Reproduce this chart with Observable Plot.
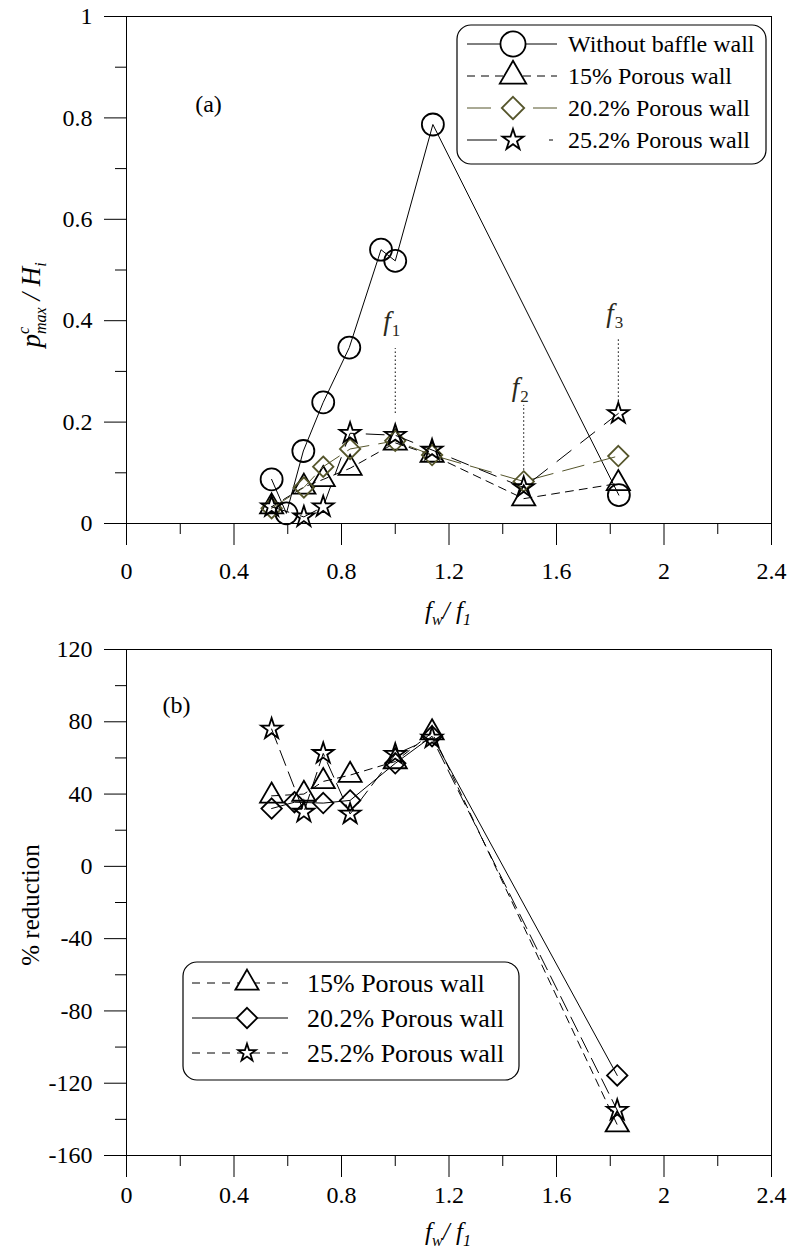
<!DOCTYPE html>
<html>
<head>
<meta charset="utf-8">
<script src="https://cdn.jsdelivr.net/npm/d3@7"></script>
<script src="https://cdn.jsdelivr.net/npm/@observablehq/plot@0.6"></script>
<style>
  html, body { margin: 0; padding: 0; background: #fff; }
  #chart { width: 788px; height: 1250px; overflow: hidden; font-family: "Liberation Serif", "Times New Roman", Times, "DejaVu Serif", serif; }
  #chart svg { display: block; }
  #chart svg text { font-family: "Liberation Serif", "Times New Roman", Times, "DejaVu Serif", serif; }
</style>
</head>
<body>
<div id="chart"></div>
<script>
// ---------------- data ----------------
// (a) p^c_max / H_i versus f_w / f_1
const xBaffle = [0.54, 0.595, 0.658, 0.732, 0.829, 0.947, 1.0, 1.14, 1.832];
const pBaffle = [0.087, 0.02, 0.143, 0.239, 0.347, 0.54, 0.518, 0.787, 0.056];
const xPorous = [0.54, 0.66, 0.732, 0.832, 1.0, 1.137, 1.478, 1.83];
const p15  = [0.033, 0.072, 0.087, 0.109, 0.159, 0.135, 0.049, 0.079];
const p202 = [0.030, 0.071, 0.112, 0.147, 0.163, 0.135, 0.083, 0.133];
const p252 = [0.033, 0.013, 0.033, 0.178, 0.174, 0.145, 0.071, 0.217];

// (b) % reduction versus f_w / f_1
const xRed    = [0.54, 0.66, 0.732, 0.832, 1.0, 1.137, 1.826];
const xRed202 = [0.54, 0.625, 0.732, 0.832, 1.0, 1.137, 1.826];
const r15  = [39, 40, 47, 50.5, 58, 74, -143];
const r202 = [32, 35.5, 35, 36.5, 57, 72, -115.7];
const r252 = [76, 30, 62.5, 29, 62, 71, -135];

// ticks
const xTicks = [0, 0.4, 0.8, 1.2, 1.6, 2, 2.4];
const xTickLabels = ["0", "0.4", "0.8", "1.2", "1.6", "2", "2.4"];
const xMinor = [0.2, 0.6, 1.0, 1.4, 1.8, 2.2];
const yTicksA = [0, 0.2, 0.4, 0.6, 0.8, 1];
const yTickLabelsA = ["0", "0.2", "0.4", "0.6", "0.8", "1"];
const yMinorA = [0.1, 0.3, 0.5, 0.7, 0.9];
const yTicksB = [-160, -120, -80, -40, 0, 40, 80, 120];
const yTickLabelsB = ["-160", "-120", "-80", "-40", "0", "40", "80", "120"];
const yMinorB = [-140, -100, -60, -20, 20, 60, 100];

// names
const namesA = ["Without baffle wall", "15% Porous wall", "20.2% Porous wall", "25.2% Porous wall"];
const namesB = ["15% Porous wall", "20.2% Porous wall", "25.2% Porous wall"];

// natural-frequency annotations in (a)
const fSub = ["1", "2", "3"];
const fX = [1.0, 1.478, 1.83];
const fTextY = [0.38, 0.25, 0.396];
const fLineTop = [0.345, 0.233, 0.365];
const fLineBottom = [0.217, 0.105, 0.233];

// panel letters
const panelText = ["(a)", "(b)"];
const panelX = [0.305, 0.186];
const panelY = [0.826, 89];

// ---------------- drawing ----------------
const FONT = "Liberation Serif, Times New Roman, Times, DejaVu Serif, serif";
const OLIVE = "#55552b";
const W = 788, H = 625;

function axisMarks(yTicks, yLabels, yMinor, xPad) {
  return [
    Plot.axisX({ticks: xTicks, tickSize: 22, tickPadding: xPad,
      tickFormat: d => xTickLabels[xTicks.indexOf(d)], label: null}),
    Plot.axisX({ticks: xMinor, tickSize: 11, tickFormat: () => "", label: null}),
    Plot.axisY({ticks: yTicks, tickSize: 22, tickPadding: 12,
      tickFormat: d => yLabels[yTicks.indexOf(d)], label: null}),
    Plot.axisY({ticks: yMinor, tickSize: 11, tickFormat: () => "", label: null}),
    Plot.frame({stroke: "#000", strokeWidth: 1})
  ];
}

const sym = {
  circle: {type: d3.symbolCircle, r: 11},
  triangle: {type: d3.symbolTriangle, r: 8.6},
  diamond2: {type: d3.symbolDiamond2, r: 9.2},
  star: {type: d3.symbolStar, r: 6.6}
};

function series(xs, ys, symbol, color, dash, sw) {
  return [
    Plot.line(xs, {x: xs, y: ys, stroke: color, strokeWidth: sw || 1, strokeDasharray: dash || null}),
    Plot.dot(xs, {x: xs, y: ys, symbol, r: sym[symbol].r, stroke: color, strokeWidth: 1.8, fill: "none"})
  ];
}

const plotStyle = {fontFamily: FONT, fontSize: "24px", color: "#000", background: "#fff", overflow: "visible"};

const plotA = Plot.plot({
  width: W, height: H,
  marginLeft: 126, marginRight: 17, marginTop: 16, marginBottom: 102,
  x: {domain: [0, 2.4]},
  y: {domain: [0, 1]},
  style: plotStyle,
  marks: [
    ...axisMarks(yTicksA, yTickLabelsA, yMinorA, 16),
    Plot.ruleX(fX, {x: fX, y1: fLineBottom, y2: fLineTop, stroke: "#000", strokeWidth: 1, strokeDasharray: "1.5,2.5"}),
    ...series(xBaffle, pBaffle, "circle", "#000", null, 1),
    ...series(xPorous, p15, "triangle", "#000", "8,6", 1),
    ...series(xPorous, p202, "diamond2", OLIVE, "22,10", 1),
    ...series(xPorous, p252, "star", "#000", "18,12", 1),
    Plot.text([panelText[0]], {x: [panelX[0]], y: [panelY[0]], text: d => d, fontSize: 24, fill: "#000"})
  ]
});

const plotB = Plot.plot({
  width: W, height: H,
  marginLeft: 126, marginRight: 17, marginTop: 24, marginBottom: 95,
  x: {domain: [0, 2.4]},
  y: {domain: [-160, 120]},
  style: plotStyle,
  marks: [
    ...axisMarks(yTicksB, yTickLabelsB, yMinorB, 8),
    ...series(xRed, r15, "triangle", "#000", "8,6", 1),
    ...series(xRed202, r202, "diamond2", "#000", null, 1),
    ...series(xRed, r252, "star", "#000", "16,7", 1),
    Plot.text([panelText[1]], {x: [panelX[1]], y: [panelY[1]], text: d => d, fontSize: 24, fill: "#000"})
  ]
});

document.getElementById("chart").append(plotA, plotB);

const svgA = d3.select(plotA), svgB = d3.select(plotB);

// natural frequency labels f1, f2, f3
const sxA = plotA.scale("x"), syA = plotA.scale("y");
fSub.forEach((s, i) => {
  const t = svgA.append("text")
    .attr("x", sxA.apply(fX[i]) - 3).attr("y", syA.apply(fTextY[i]))
    .attr("text-anchor", "middle").attr("font-family", FONT).attr("font-size", 27).attr("fill", "#2b2a1c");
  t.append("tspan").attr("font-style", "italic").text("f");
  t.append("tspan").attr("font-size", 17).attr("dy", 6).attr("dx", 1).text(s);
});

// x axis titles
function xTitle(svg, y) {
  const t = svg.append("text").attr("x", 448).attr("y", y)
    .attr("text-anchor", "middle").attr("font-family", FONT).attr("font-size", 25).attr("font-style", "italic").attr("fill", "#000");
  t.append("tspan").text("f");
  t.append("tspan").attr("font-size", 16).attr("dy", 6).text("w");
  t.append("tspan").attr("dy", -6).text("/ f");
  t.append("tspan").attr("font-size", 16).attr("dy", 6).text("1");
}
xTitle(svgA, 619);
xTitle(svgB, 615);

// y axis titles
{
  const t = svgA.append("text").attr("transform", "translate(40,305) rotate(-90)")
    .attr("text-anchor", "middle").attr("font-family", FONT).attr("font-size", 27).attr("font-style", "italic").attr("fill", "#000");
  t.append("tspan").text("p");
  t.append("tspan").attr("font-size", 16).attr("dy", -11).text("c");
  t.append("tspan").attr("font-size", 16).attr("dx", -7).attr("dy", 17).text("max");
  t.append("tspan").attr("dy", -6).text(" / H");
  t.append("tspan").attr("font-size", 16).attr("dy", 6).text("i");
}
svgB.append("text").attr("transform", "translate(30,280) rotate(-90)")
  .attr("text-anchor", "middle").attr("dy", "0.35em").attr("font-family", FONT).attr("font-size", 25).attr("fill", "#000")
  .text("% reduction");

// legends
function legend(svg, box, rows, layout) {
  const g = svg.append("g");
  g.append("rect").attr("x", box[0]).attr("y", box[1]).attr("width", box[2]).attr("height", box[3])
    .attr("rx", 14).attr("fill", "#fff").attr("stroke", "#000").attr("stroke-width", 1.2);
  rows.forEach((r, i) => {
    const cy = layout.rowY[i];
    g.append("line").attr("x1", layout.lineX1).attr("x2", layout.lineX2).attr("y1", cy).attr("y2", cy)
      .attr("stroke", r.color).attr("stroke-width", 1).attr("stroke-dasharray", r.dash);
    const s = sym[r.symbol];
    g.append("path").attr("d", d3.symbol(s.type, Math.PI * s.r * s.r * (r.scale || 1))())
      .attr("transform", `translate(${layout.symX},${cy})`)
      .attr("fill", "#fff").attr("stroke", r.color).attr("stroke-width", 1.8);
    g.append("text").attr("x", layout.textX).attr("y", cy).attr("dy", "0.34em")
      .attr("text-anchor", "start")
      .attr("font-family", FONT).attr("font-size", layout.fontSize).attr("fill", "#000").text(r.name);
  });
}

legend(svgA, [457, 25, 309, 139], [
  {name: namesA[0], symbol: "circle", color: "#000", dash: null, scale: 1.3},
  {name: namesA[1], symbol: "triangle", color: "#000", dash: "8,6", scale: 1.3},
  {name: namesA[2], symbol: "diamond2", color: OLIVE, dash: "24,42,25", scale: 1.2},
  {name: namesA[3], symbol: "star", color: "#000", dash: "30,52,4,20", scale: 1.0}
], {rowY: [44, 76, 108, 140], lineX1: 467, lineX2: 557, symX: 513, textX: 568, fontSize: 24});

legend(svgB, [183, 337, 336, 118], [
  {name: namesB[0], symbol: "triangle", color: "#000", dash: "8,7", scale: 1.0},
  {name: namesB[1], symbol: "diamond2", color: "#000", dash: null, scale: 1.0},
  {name: namesB[2], symbol: "star", color: "#000", dash: "8,7", scale: 0.7}
], {rowY: [358, 393, 428], lineX1: 192, lineX2: 288, symX: 247, textX: 307, fontSize: 26});
</script>
</body>
</html>
